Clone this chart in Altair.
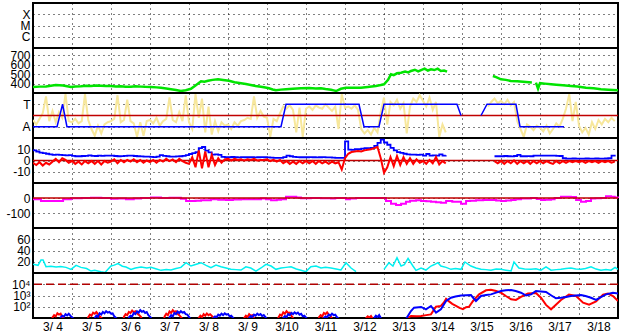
import altair as alt
import pandas as pd

# ---------------- data ----------------
day_hours = [0, 24, 48, 72, 96, 120, 144, 168, 192, 216, 240, 264, 288, 312, 336]
day_labels = ["3/ 4", "3/ 5", "3/ 6", "3/ 7", "3/ 8", "3/ 9", "3/10", "3/11",
              "3/12", "3/13", "3/14", "3/15", "3/16", "3/17", "3/18"]

xray_ticks = [1e-6, 1e-5, 1e-4]
xray_labels = ["C", "M", "X"]
speed_ticks = [400, 500, 600, 700]
sector_ticks = [-1, 1]
sector_labels = ["A", "T"]
imf_ticks = [-10, 0, 10]
dst_ticks = [-100, 0]
dens_ticks = [20, 40, 60]
flux_ticks = [100, 1000, 10000]
flux_labels = ["10\u00b2", "10\u00b3", "10\u2074"]

# 2-hour sampled series (hours 0..358)
grid2h = list(range(0, 360, 2))

phi_vals = [
    -0.4, -0.8, -0.3, 0.2, 1.7, -0.5, 0.4, -0.6, 0.3, -0.2, 1.9, -0.5,
    -0.6, -0.3, -0.7, -0.5, 1.9, -0.4, -1.2, -1.8, -0.9, -1.6, -0.8, -0.6,
    -0.5, -0.3, 1.8, -0.6, -0.4, 1.4, -0.5, -0.7, -1.9, -0.6, -1.8, -0.5,
    -0.4, -0.7, -0.2, -0.9, -0.5, -0.3, 1.6, -0.4, -0.6, 0.3, -0.5, 1.8,
    -0.6, -1.2, 1.9, -0.2, 1.5, -1.5, 0.8, -1.7, -0.5, -1.4, -0.6, -0.9,
    -0.8, -1.2, -0.6, -0.9, -0.5, -0.4, -0.2, -0.3, 1.7, -0.2, 0.4, -0.1,
    -0.2, -1.9, -0.3, -0.5, 0.2, 0.8, 0.6, 0.9, 0.5, -1.5, 0.7, -1.9,
    0.6, 0.8, 0.5, 0.9, 0.7, 0.6, 1.0, 0.7, 0.4, 0.8, -1.2, 1.9,
    0.7, 0.8, 0.6, 0.9, 0.5, -1.2, -1.6, -1.3, -1.7, -1.1, -1.5, 0.3,
    1.6, -0.8, 1.2, 0.9, 1.4, 0.6, 1.1, -1.6, 0.8, 1.5, 1.2, 1.8,
    1.3, 0.8, 1.6, 0.5, 1.2, -1.9, -0.8, -1.5, None, None, None, None,
    None, None, None, None, None, None, None, None, 0.8, 1.2, 1.5, 1.1,
    1.3, 1.0, 1.4, 0.9, 1.2, -0.5, -1.2, -1.9, -0.8, -1.0, -1.3, -0.9,
    -1.1, -1.4, -0.9, -1.6, -1.2, -0.7, -1.0, -0.3, 0.6, 1.9, -0.5, 1.2,
    -0.9, -1.5, -1.1, -1.7, -0.6, -1.2, -0.4, -0.8, -0.3, -0.6, -0.2, -0.5,
]

bt_vals = [
    9, 8, 7, 6.5, 6, 5.5, 5, 5.3, 5, 4.7, 4.5, 4.7,
    4.2, 3.8, 3.8, 4, 4.2, 4.5, 4.2, 4, 4.3, 4.2, 4.4, 4.4,
    4.4, 4, 3.8, 3.9, 4.2, 4.4, 4.3, 4, 3.8, 3.6, 3.5, 3.5,
    3.2, 3, 3.5, 4.7, 4.2, 3.8, 3.5, 3.5, 3.6, 3.8, 4.2, 4.7,
    5.8, 6.5, 7.5, 11, 12, 8.8, 7.3, 5.3, 5.5, 5, 3.2, 2.9,
    2.9, 3.1, 2.9, 2.8, 3, 2.9, 2.9, 3, 2.8, 2.9, 3, 2.9,
    2.8, 2.6, 2.4, 2.3, 2.3, 3, 4.4, 3.8, 3.2, 3, 2.9, 2.9,
    2.9, 3, 2.9, 2.8, 2.9, 3, 2.8, 2.7, 2.5, 2.3, 2.4, 2.4,
    17, 9.7, 9.5, 10, 10, 10.5, 11, 11, 11.2, 13, 15.6, 18.6,
    16, 14, 11.2, 9, 7.5, 6.7, 6, 5.5, 5.3, 5.3, 5, 5.3,
    4.4, 5.8, 4.4, 4.6, 4.4, 5.5, 4.4, 4.6, None, None, None, None,
    None, None, None, None, None, None, None, None, None, None, 3.8, 3.8,
    3.8, 4, 3.8, 3.7, 4, 5, 3.8, 3.8, 3.9, 3.8, 4.4, 4.4,
    4.4, 4.4, 4.3, 4.4, 4.4, 4.2, 4.0, 2.0, 1.7, 1.7, 1.8, 1.7,
    1.6, 1.7, 1.8, 1.7, 1.7, 1.8, 1.7, 1.7, 1.8, 2.0, 4.4, 3.5,
]

bz_vals = [
    -2, -4, -1.5, -4.5, -2, -3.5, -1, 1.5, -1.5, 2, 0.5, -2,
    -0.5, -3, -1, -3.5, -0.5, -2.5, -0.5, -3, -0.5, -3.5, -0.5, -2,
    -1, 1, -2.5, 0.5, -1.5, 0.5, -1, 1, -1.5, 0.5, -2, 0,
    -1.5, 0.5, -2, 0.5, -1, 1.5, -0.5, 1, -1.5, 1.5, -0.5, -2,
    -3, 3, -6, 9, -7, 8, -6, 5, -4, 2, -2, 1,
    1.5, 0, 1.5, 0.5, 1, 0, 1, 0.5, 1.5, 0, 0.5, 0.5,
    1, -0.5, 0.5, -1, 0.5, -2.5, -0.5, -3, -1, -3, -0.5, -2.5,
    -0.5, -2.5, -0.5, -3, -0.5, -2.5, -1, -3, -1, -2.5, -1.5, -8,
    2, 6, 7.5, 8, 8.5, 8, 9, 9.5, 10, 11, 12, 2,
    -11, -6, 3, -5, 4, -4, 3, -3, 2, -3, 1, -2,
    -0.5, -3, 0.5, -2.5, 3, -3.5, -0.5, -2.5, None, None, None, None,
    None, None, None, None, None, None, None, None, None, None, -0.5, -2.5,
    -0.5, -3, -0.5, -2.5, 0, -3, -0.5, -2.5, -0.5, -3, -0.5, -2.5,
    -0.5, -2.5, -0.5, -2, -3, -0.5, -2.5, -0.5, -2, -0.5, -1.5, -0.5,
    -1.5, -0.5, -2, -0.5, -1.5, -0.5, -2, -0.5, -1.5, -0.5, -2, -1,
]

# irregular (hour, value) series; None marks a data gap
speed_pts = [
    (0, 364), (4, 368), (8, 370), (11, 378), (14, 385), (18.5, 380), (21, 372), (23.4, 365),
    (26, 370), (29.5, 372), (33, 377), (35.7, 375), (39, 380), (41.8, 378), (45, 374), (48, 375),
    (51, 370), (54, 372), (57, 368), (60.3, 368), (63, 372), (66.5, 368), (69, 366), (72.6, 365),
    (76, 360), (78.8, 355), (82, 348), (84.9, 340), (88, 332), (91, 322), (94, 330), (97.2, 345),
    (100, 380), (103.4, 425), (105.5, 420), (107.7, 430), (110.5, 440), (113.8, 446), (117, 438),
    (120.6, 430), (124, 415), (128, 403), (131, 395), (134, 385), (137, 375), (140.3, 367),
    (143, 358), (145.2, 350), (147.5, 338), (149.5, 329), (152.5, 336), (155.7, 340), (160, 346),
    (164.9, 350), (170, 352), (174, 348), (177.2, 350), (180, 342), (183.4, 335), (185, 328),
    (186.5, 321), (189.5, 345), (192.6, 357), (197, 355), (201.8, 357), (206, 365), (211, 375),
    (214, 385), (216, 393), (218.5, 440), (220.3, 500), (222, 490), (224, 510), (226.5, 517),
    (229, 528), (231, 520), (232.6, 535), (235, 548), (237, 530), (238.8, 545), (241, 560),
    (243, 540), (244.9, 553), (247, 545), (249, 560), (251, 535), (253, 540), (254.8, 527),
    (268, None),
    (283, 481), (285, 470), (288, 446), (291, 440), (294, 428), (298, 425), (303.4, 417), (307, 412),
    (308, None),
    (309.5, 410), (310.8, 346), (312, 405), (315, 400), (318.8, 393), (322, 388), (326, 382),
    (331, 375), (335, 370), (340.3, 357), (345, 350), (349.5, 340), (354, 335), (360, 329),
]

sector_pts = [
    (0, -1), (14.8, -1), (18.2, 1), (20.9, -1), (152.6, -1), (155.7, 1), (200.6, 1), (203.7, -1),
    (212.9, -1), (216, 1), (260.9, 1), (263.4, 0),
    (270, None),
    (275.7, 0), (279.4, 1), (297.2, 1), (299.7, -1), (326.8, -1),
]

dst_pts = [
    (0, -9), (4.9, -20), (14.2, -20), (18.5, -9), (23.4, -2), (30, 0), (35.7, 2), (42, 0),
    (48, -5), (52, -3), (57.2, -9), (62, -4), (66.5, 0), (72.6, 3), (78.8, 0), (84, 1), (88, 2),
    (91, -5), (94.2, -20), (100, -18), (103.4, -15), (109.5, -9), (114, -12), (118.8, -13),
    (123, -10), (128, -9), (134, -9), (140.3, -4), (143.4, -9), (146.5, -15), (150, -12),
    (152.6, -9), (155.7, 9), (158.8, 9), (162, 3), (164.9, -2), (171, 0), (177.2, -2),
    (183.4, -4), (186, 0), (189.5, 0), (192.6, -9), (195, -4), (198.8, 0), (205, 0), (214, 0),
    (217.2, -20), (220.3, -38), (223.4, -47), (226.5, -38), (229.5, -25), (232, -18),
    (235.7, -15), (238.8, -20), (242, -22), (244.9, -25), (248, -28), (251, -31), (254.2, -20),
    (258, -25), (263.4, -38), (266.5, -20), (269, -18), (272.6, -15), (277, -13), (281.8, -13),
    (285, -17), (288, -20), (291, -16), (294.2, -13), (297, -8), (300.3, -4), (306.5, 0),
    (310, -6), (312.6, -13), (315, -11), (318.8, -9), (321, 0), (324.9, 9), (328, 8), (331, 7),
    (334.2, -13), (337.2, -25), (340.3, -20), (343.4, -4), (346, -2), (349.5, 0), (352.6, 11),
    (355.7, 9), (358, 3), (360, 0),
]

dens_pts = [
    (0, 15.4), (3.1, 13.6), (4.9, 23), (6.2, 23), (8, 11.3), (11, 12), (14.2, 10.7), (17, 11.5),
    (20.3, 10), (23.4, 6.5), (26.5, 13.6), (29.5, 10), (33, 8), (35.7, 3.5), (38, 5), (41.8, 2.4),
    (44.3, 1), (48, 12.4), (50, 14), (52.3, 16.6), (55, 12), (57.2, 10.7), (60.3, 6.5), (63, 9),
    (66.5, 10.7), (70, 9), (72.6, 10), (76, 7), (78.8, 4.7), (82, 6), (84.9, 5.3), (88, 8),
    (91, 10), (94.2, 18.3), (97.2, 12.4), (100, 15), (103.4, 18.3), (106.5, 13.6), (109.5, 9.5),
    (112.6, 14.2), (115.7, 11), (118.8, 8.9), (121.8, 6.5), (125, 6), (128, 5.3), (131, 11),
    (134, 8.9), (137.2, 3.5), (140.3, 8.9), (143.4, 15.4), (146.5, 12.4), (149.5, 6.5),
    (152.6, 8.9), (155.7, 10), (158.8, 11), (162, 7), (164.9, 5), (168, 2.4), (171, 11),
    (174.2, 12.4), (177.2, 8.9), (180, 10), (183.4, 8.9), (186.5, 7), (189.5, 5.3), (192.6, 18.3),
    (195.7, 8.9), (198.8, 2.4),
    (207, None),
    (216, 6.5), (219, 18.3), (221.5, 12.4), (224, 27.3), (226.5, 12.4), (228.5, 15), (230.8, 26.1),
    (233.8, 12.4), (235.7, 4.7), (238.8, 8.9), (241.8, 5.3), (244.9, 12.4), (247, 15),
    (249.2, 18.3), (251, 12.4), (254.2, 10), (257.2, 6.5), (260, 8), (263.4, 6.5), (265.8, 19.6),
    (269.5, 12.4), (272.6, 9), (275.7, 6.5), (278.8, 6), (281.8, 5), (285, 7), (288, 6.5),
    (291, 5), (294.2, 3.5), (296, 19.6), (299, 8.9), (302.5, 7), (306.5, 6.5), (309.5, 7.5),
    (312.6, 5), (315.7, 11), (318.8, 5), (322, 6), (324.9, 6.5), (328, 8), (331, 8.9), (334, 7),
    (337.2, 6.5), (340, 8), (343.4, 11), (346.5, 7), (349.5, 5), (352.6, 6), (355.7, 5),
    (358.2, 10), (360, 6.5),
]

flux_red_pts = [
    (0, 3), (11, 3), (12, 11), (13, 18), (14, 14), (15, 26), (16, 20), (17, 24), (18, 12), (19.5, 8), (20.5, 3),
    (33, 3), (34, 12), (35, 20), (36, 16), (37, 30), (38, 24), (39, 34), (40, 22), (41, 14), (42.5, 9), (43.5, 3),
    (55, 3), (56, 13), (57, 22), (58, 18), (59, 35), (60, 28), (61, 45), (62, 32), (63, 40), (64, 26),
    (65, 20), (66.5, 12), (68, 3),
    (80, 3), (81, 14), (82, 24), (83, 18), (84, 38), (85, 28), (86, 50), (87, 34), (88, 40), (89, 24),
    (90, 18), (91.5, 10), (93, 3),
    (101, 3), (102, 10), (103, 16), (104, 12), (105, 22), (106, 16), (107, 25), (108, 18), (109, 22),
    (110.5, 13), (112, 9), (114, 3),
    (129, 3), (130, 10), (131, 16), (132, 12), (133, 22), (134, 16), (135, 18), (136, 10), (137.5, 3),
    (150, 3), (151, 11), (152, 20), (153, 16), (154, 32), (155, 24), (156, 40), (157, 28), (158, 30),
    (159, 16), (160, 10), (161, 3),
    (175, 3), (176, 12), (177, 18), (178, 14), (179, 28), (180, 22), (181, 32), (182, 20), (183, 16),
    (184, 9), (185.5, 3),
    (204, 3), (205, 10), (206, 14), (207, 11), (208, 15), (209, 9), (210, 3),
    (225, 3), (229.5, 8), (232.6, 15), (236, 14), (238.8, 15), (242, 18), (244.9, 21),
    (248, 100), (251, 120), (253, 250), (254.2, 500), (256, 300), (258, 180), (260.3, 120),
    (262.5, 80), (264.6, 60), (266.5, 90), (268.3, 100), (270.8, 325), (274.5, 1260),
    (278.8, 2900), (281.8, 3300), (285, 2500), (288, 1770), (291, 900), (294.2, 460),
    (297.2, 400), (300.3, 740), (304.6, 1500), (309.5, 1700), (312.6, 630), (315.7, 145),
    (318.8, 59), (321.8, 150), (324.9, 400), (329.8, 1200), (334.2, 900), (338.5, 230),
    (342.2, 150), (346.5, 300), (350.8, 1200), (353.8, 1500), (356.9, 900), (360, 330),
]

flux_blue_pts = [
    (0, 3), (16, 3), (17, 11), (18, 16), (19, 13), (20, 22), (21, 17), (22, 24), (23, 16), (24, 12),
    (25, 8), (26, 3),
    (37, 3), (38, 10), (39, 16), (40, 13), (41, 26), (42, 20), (43, 34), (44, 26), (45, 40), (46, 30),
    (47, 35), (48, 24), (49, 26), (50, 14), (51.5, 9), (53, 3),
    (58, 3), (59, 11), (60, 16), (61, 14), (62, 28), (63, 22), (64, 40), (65, 30), (66, 50), (67, 36),
    (68, 42), (69, 28), (70, 34), (71, 18), (72.5, 11), (74, 3),
    (83, 3), (84, 11), (85, 18), (86, 14), (87, 28), (88, 22), (89, 38), (90, 28), (91, 40), (92, 30),
    (93, 34), (94, 22), (95, 20), (96.5, 10), (98, 3),
    (110, 3), (111, 10), (112, 14), (113, 12), (114, 20), (115, 16), (116, 24), (117, 18), (118, 26),
    (119, 20), (120, 22), (121, 14), (122, 16), (123.5, 9), (125, 3),
    (132, 3), (133, 10), (134, 15), (135, 12), (136, 20), (137, 16), (138, 24), (139, 18), (140, 22),
    (141, 15), (142, 18), (143.5, 10), (145, 3),
    (153, 3), (154, 10), (155, 15), (156, 12), (157, 22), (158, 18), (159, 28), (160, 22), (161, 32),
    (162, 24), (163, 30), (164, 20), (165, 24), (166, 14), (167, 16), (168.5, 9), (170, 3),
    (178, 3), (179, 10), (180, 14), (181, 12), (182, 20), (183, 16), (184, 24), (185, 18), (186, 20),
    (187, 12), (188.5, 8), (190, 3),
    (209, 3), (210, 10), (211, 16), (212, 12), (213, 18), (214, 10), (215, 3),
    (228, 3), (229.5, 8), (232.6, 42), (234.5, 83), (238.8, 96), (241.8, 59), (244.9, 117),
    (248, 30), (251, 59), (254.2, 325), (257.2, 630), (260, 800), (263.4, 1000), (266.5, 1050),
    (269.5, 1100), (271, 600), (272.6, 325), (275.7, 900), (278.8, 1100), (281.8, 1260),
    (285, 1800), (288, 2500), (291, 2900), (294.2, 3100), (297, 2500), (300.3, 1770),
    (303.4, 1000), (306.5, 1260), (309.5, 2500), (312.6, 2300), (315.7, 2040), (319, 1000),
    (321.8, 560), (324.9, 630), (328, 750), (331, 900), (337.2, 1100), (340, 900), (343.4, 630),
    (346.5, 400), (349.5, 700), (352.6, 1260), (356.9, 1770), (360, 1500),
]

zero_line = [0]
flux_ref = [10000]

# ---------------- helpers ----------------
W, H = 585, 45


def frame(pairs):
    seg, rows = 0, []
    for h, v in pairs:
        if v is None:
            seg += 1
            continue
        rows.append({"h": h, "v": v, "seg": seg})
    return pd.DataFrame(rows)


def eq_expr(ticks, labels):
    expr = "''"
    for t, l in reversed(list(zip(ticks, labels))):
        expr = f"datum.value == {t!r} ? '{l}' : ({expr})"
    return expr


def xenc(bottom=False):
    if bottom:
        ax = alt.Axis(values=day_hours, grid=True, ticks=False, domain=False, title=None,
                      labelExpr="[" + ",".join(f"'{d}'" for d in day_labels) + "][round(datum.value / 24)]",
                      labelOffset=W / 30, labelFlush=False, labelOverlap=False, labelPadding=3,
                      labelFontSize=12)
    else:
        ax = alt.Axis(values=day_hours, grid=True, ticks=False, domain=False, title=None,
                      labels=False, minExtent=0, maxExtent=0)
    return alt.X("h:Q", scale=alt.Scale(domain=[0, 360], nice=False, zero=False), axis=ax)


def yenc(ticks, domain, expr="'' + datum.value", log=False):
    if log:
        sc = alt.Scale(type="log", domain=domain, nice=False)
    else:
        sc = alt.Scale(domain=domain, nice=False, zero=False)
    return alt.Y("v:Q", scale=sc,
                 axis=alt.Axis(values=ticks, labelExpr=expr, grid=True, ticks=False, domain=False,
                               title=None, minExtent=32, maxExtent=32, labelPadding=3,
                               labelOverlap=False, labelFlush=False))


def series2h(vals):
    return frame(list(zip(grid2h, vals)))


# ---------------- panels ----------------
empty = pd.DataFrame({"h": pd.Series(dtype=float), "v": pd.Series(dtype=float)})
y_x = yenc(xray_ticks, [1e-7, 1e-3], eq_expr(xray_ticks, xray_labels), log=True)
p_xray = alt.Chart(empty).mark_line(color="#ff6600").encode(x=xenc(), y=y_x)

y_sp = yenc(speed_ticks, [300, 780])
p_speed = alt.Chart(frame(speed_pts)).mark_line(color="#00e400", strokeWidth=2.5, clip=True).encode(
    x=xenc(), y=y_sp, detail="seg:N")

y_sec = yenc(sector_ticks, [-2, 2], eq_expr(sector_ticks, sector_labels))
p_sector = alt.layer(
    alt.Chart(series2h(phi_vals)).mark_line(color="#f7e79b", strokeWidth=2, clip=True).encode(
        x=xenc(), y=y_sec, detail="seg:N"),
    alt.Chart(pd.DataFrame({"v": zero_line})).mark_rule(color="#c00000", strokeWidth=1.5).encode(y=y_sec),
    alt.Chart(frame(sector_pts)).mark_line(color="#0000ff", strokeWidth=1.5).encode(
        x=xenc(), y=y_sec, detail="seg:N"),
)

y_imf = yenc(imf_ticks, [-20, 20])
p_imf = alt.layer(
    alt.Chart(pd.DataFrame({"v": zero_line})).mark_rule(color="#c00000", strokeWidth=1.5).encode(y=y_imf),
    alt.Chart(series2h(bt_vals)).mark_line(color="#0000ff", strokeWidth=1.8, interpolate="step-after",
                                           clip=True).encode(x=xenc(), y=y_imf, detail="seg:N"),
    alt.Chart(series2h(bz_vals)).mark_line(color="#ff0000", strokeWidth=2, clip=True).encode(
        x=xenc(), y=y_imf, detail="seg:N"),
)

y_dst = yenc(dst_ticks, [-200, 100])
p_dst = alt.layer(
    alt.Chart(frame(dst_pts)).mark_line(color="#ff00ff", strokeWidth=2, interpolate="step-after").encode(
        x=xenc(), y=y_dst, detail="seg:N"),
    alt.Chart(pd.DataFrame({"v": zero_line})).mark_rule(color="#c00000", strokeWidth=1.5).encode(y=y_dst),
)

y_den = yenc(dens_ticks, [0, 80])
p_dens = alt.Chart(frame(dens_pts)).mark_line(color="#00f0f0", strokeWidth=1.5, clip=True).encode(
    x=xenc(), y=y_den, detail="seg:N")

y_fl = yenc(flux_ticks, [10, 1e5], eq_expr(flux_ticks, flux_labels), log=True)
p_flux = alt.layer(
    alt.Chart(pd.DataFrame({"v": flux_ref})).mark_rule(color="#b00000", strokeWidth=1.5,
                                                       strokeDash=[8, 4]).encode(y=y_fl),
    alt.Chart(frame(flux_red_pts)).mark_line(color="#ff0000", strokeWidth=2, clip=True).encode(
        x=xenc(True), y=y_fl, detail="seg:N"),
    alt.Chart(frame(flux_blue_pts)).mark_line(color="#0000ff", strokeWidth=2, clip=True).encode(
        x=xenc(True), y=y_fl, detail="seg:N"),
)

panels = [p.properties(width=W, height=H) for p in
          [p_xray, p_speed, p_sector, p_imf, p_dst, p_dens, p_flux]]

chart = alt.vconcat(*panels, spacing=0, bounds="flush").properties(
    padding={"left": 0, "top": 2, "right": 5, "bottom": 0},
    background="white",
).configure_view(
    stroke="black", strokeWidth=2
).configure_axis(
    labelFont="Liberation Sans", labelFontSize=12, labelColor="black",
    gridColor="black", gridDash=[1, 4], gridOpacity=1, gridWidth=1,
)

chart.save("out.html", embed_options={"renderer": "svg", "actions": False})
